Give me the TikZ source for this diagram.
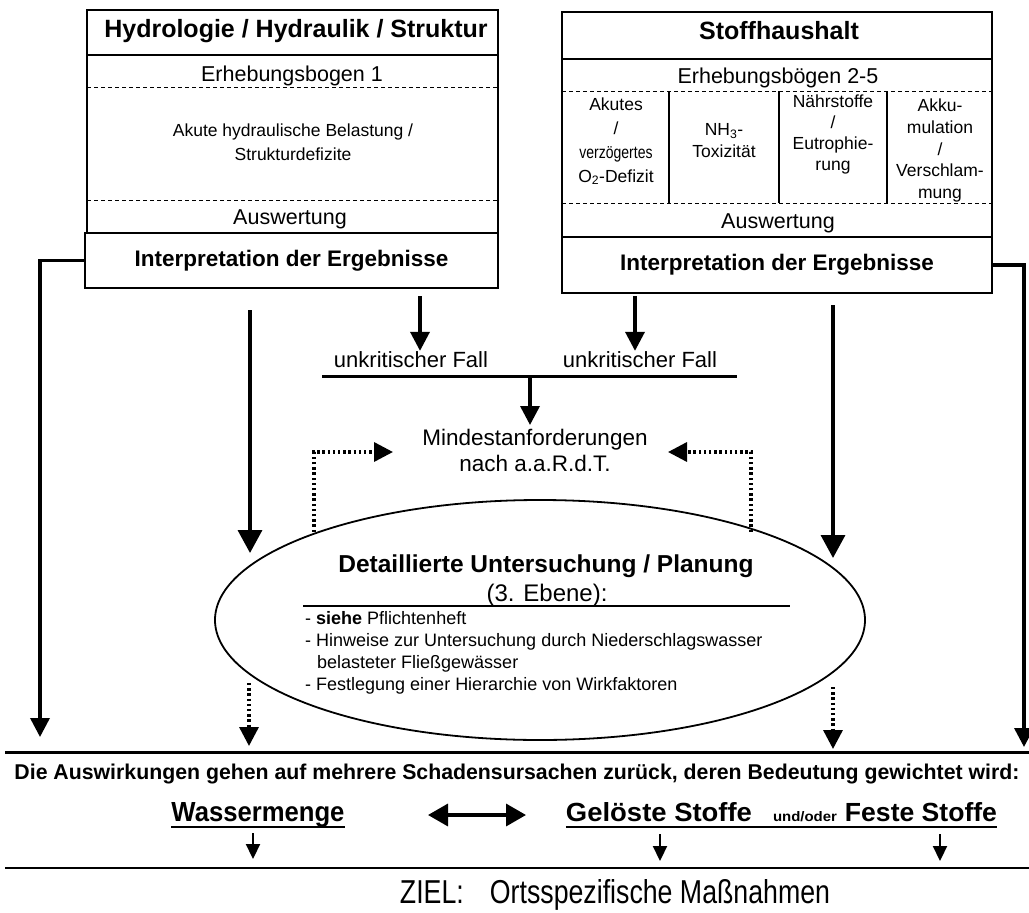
\documentclass[tikz,border=0pt]{standalone}
\usepackage{fontspec}
\setmainfont{Liberation Sans}
\usepackage{graphicx}
\usetikzlibrary{arrows.meta,shapes.geometric,calc}
\newcommand\fsz[2]{\fontsize{#1}{#2}\selectfont}
\begin{document}
\begin{tikzpicture}[x=1pt,y=-1pt,
  thinbox/.style={line width=1.3pt},
  dashline/.style={line width=1pt, dash pattern=on 4pt off 3pt},
  ibox/.style={draw, line width=2.4pt, inner sep=0pt, font=\bfseries\fsz{22.5}{26}},
  txt/.style={inner sep=0pt, anchor=base},
  coltxt/.style={inner sep=0pt, anchor=north, align=center},
  arr/.style={line width=3.5pt, -{Triangle[length=23pt,width=24pt]}},
  marr/.style={line width=3.5pt, -{Triangle[length=19pt,width=19pt]}},
  darr/.style={line width=3.4pt, dash pattern=on 2.4pt off 2.8pt, -{Triangle[length=19pt,width=19pt]}},
  sarr/.style={line width=2.2pt, -{Triangle[length=15pt,width=14pt]}},
  bar/.style={line width=3pt},
]
\useasboundingbox (0,0) rectangle (1029,913);

% ---------------- left box
\draw[thinbox] (87,10) rectangle (498,233);
\draw[thinbox] (87,55) -- (498,55);
\draw[dashline] (87,87) -- (498,87);
\draw[dashline] (87,200) -- (498,200);
\node[txt, font=\bfseries\fsz{25}{30}] (LT) at (296,37) {Hydrologie / Hydraulik / Struktur};
\node[txt, font=\fsz{21.5}{26}] (LE) at (292,81) {Erhebungsbogen 1};
\node[txt, font=\fsz{17.5}{24}] (LA1) at (293,136) {Akute hydraulische Belastung /};
\node[txt, font=\fsz{17.5}{24}] (LA2) at (293,160) {Strukturdefizite};
\node[txt, font=\fsz{21.5}{26}] (LW) at (290,224) {Auswertung};
\node[ibox, minimum width=413pt, minimum height=55pt] (LI) at (291.5,260.5) {Interpretation der Ergebnisse};

% ---------------- right box
\draw[thinbox] (562,12) rectangle (992,237);
\draw[thinbox] (562,59) -- (992,59);
\draw[dashline] (562,91) -- (992,91);
\draw[dashline] (562,203) -- (992,203);
\draw[thinbox] (669,91) -- (669,203);
\draw[thinbox] (779,91) -- (779,203);
\draw[thinbox] (887,91) -- (887,203);
\node[txt, font=\bfseries\fsz{25}{30}] (RT) at (779,39) {Stoffhaushalt};
\node[txt, font=\fsz{21.5}{26}] (RE) at (778,83) {Erhebungsbögen 2-5};
\node[coltxt, font=\fsz{17.5}{24}] (C1) at (616,97.5) {Akutes\\/\\\scalebox{0.8}[1]{verzögertes}\\O\textsubscript{2}-Defizit};
\node[coltxt, font=\fsz{17.5}{22}] (C2) at (724,123.5) {NH\textsubscript{3}-\\Toxizität};
\node[coltxt, font=\fsz{17.5}{21}] (C3) at (833,95) {Nährstoffe\\/\\Eutrophie-\\rung};
\node[coltxt, font=\fsz{17.5}{21.7}] (C4) at (940,99) {Akku-\\mulation\\/\\Verschlam-\\mung};
\node[txt, font=\fsz{21.5}{26}] (RW) at (778,228) {Auswertung};
\node[ibox, minimum width=430pt, minimum height=56pt] (RI) at (777,265) {Interpretation der Ergebnisse};

% ---------------- middle
\node[txt, font=\fsz{22}{26}] (UF1) at (411,367) {unkritischer Fall};
\node[txt, font=\fsz{22}{26}] (UF2) at (640,367) {unkritischer Fall};
\coordinate (a1) at (420,296);
\coordinate (a2) at (635,296);
\draw[marr] (a1) -- (a1 |- UF1.north);
\draw[marr] (a2) -- (a2 |- UF2.north);
\coordinate (barL) at (322,376);
\coordinate (barR) at (737,376);
\coordinate (barM) at (530,376);
\draw[bar] (barL) -- (barR);
\node[coltxt, font=\fsz{22.5}{26}] (M) at (535,429) {Mindestanforderungen\\nach a.a.R.d.T.};
\draw[marr] (barM) -- ([yshift=4pt]barM |- M.north);

% ---------------- ellipse
\node[draw, ellipse, line width=1.8pt, minimum width=650pt, minimum height=240pt, inner sep=0pt] (E) at (540,620) {};
\node[txt, font=\bfseries\fsz{24.5}{28}] (ET) at (546,572) {Detaillierte Untersuchung / Planung};
\node[txt, font=\fsz{24}{28}] (EB) at (547,601) {(3. Ebene):};
\coordinate (ul1) at (303,606);
\coordinate (ul2) at (790,606);
\draw[line width=1.5pt] (ul1) -- (ul2);
\node[inner sep=0pt, anchor=north west, align=left, font=\fsz{18}{22}] (EL) at (305,611)
  {- {\bfseries siehe} Pflichtenheft\\- Hinweise zur Untersuchung durch Niederschlagswasser\\\hspace*{12pt}belasteter Fließgewässer\\- Festlegung einer Hierarchie von Wirkfaktoren};

% dotted feedback arrows
\coordinate (dl) at (314,532);
\coordinate (dr) at (751,532);
\draw[darr] (dl) |- (393,452);
\draw[darr] (dr) |- (668,452);

% long arrows
\coordinate (la) at (250,310);
\coordinate (ra) at (833,305);
\draw[arr] (la) -- (250,553);
\draw[arr] (ra) -- (833,558);

% edge arrows
\coordinate (le) at (40,737);
\coordinate (re) at (1024,747);
\draw[marr] (LI.west) -| (le);
\draw[marr] (RI.east) -| (re);

% dotted arrows below ellipse
\coordinate (bl) at (249,683);
\coordinate (br) at (833,687);
\draw[darr] (bl) -- (249,746);
\draw[darr] (br) -- (833,749);

% ---------------- bottom
\coordinate (h1a) at (5,752);
\coordinate (h1b) at (1029,752);
\draw[line width=3pt] (h1a) -- (h1b);
\node[txt] (AW) at (517,779) {\resizebox{1005pt}{15.5pt}{\bfseries Die Auswirkungen gehen auf mehrere Schadensursachen zurück, deren Bedeutung gewichtet wird:}};

\node[txt] (WM) at (258,821) {\resizebox{173pt}{19pt}{\bfseries Wassermenge}};
\draw[line width=2pt] (WM.south west |- 0,827) -- (WM.south east |- 0,827);
\node[txt] (GS) at (659,821) {\resizebox{186pt}{19pt}{\bfseries Gelöste Stoffe}};
\node[txt] (UO) at (805,821) {\resizebox{64pt}{10pt}{\bfseries und/oder}};
\node[txt] (FS) at (921,821) {\resizebox{152pt}{19pt}{\bfseries Feste Stoffe}};
\draw[line width=2pt] (GS.south west |- 0,827) -- (FS.south east |- 0,827);
\coordinate (dA) at (428,815);
\coordinate (dB) at (526,815);
\draw[line width=3.5pt, {Triangle[length=20pt,width=22pt]}-{Triangle[length=20pt,width=22pt]}] (dA) -- (dB);

\coordinate (w1) at (253,833);
\coordinate (w2) at (660,834);
\coordinate (w3) at (940,834);
\draw[sarr] (w1) -- (253,859);
\draw[sarr] (w2) -- (660,861);
\draw[sarr] (w3) -- (940,861);

\coordinate (h2a) at (5,868);
\coordinate (h2b) at (1029,868);
\draw[line width=2.5pt] (h2a) -- (h2b);
\node[txt] (Z) at (615,903) {\resizebox{430pt}{24pt}{ZIEL:\hspace{0.7em} Ortsspezifische Maßnahmen}};
\end{tikzpicture}
\end{document}
